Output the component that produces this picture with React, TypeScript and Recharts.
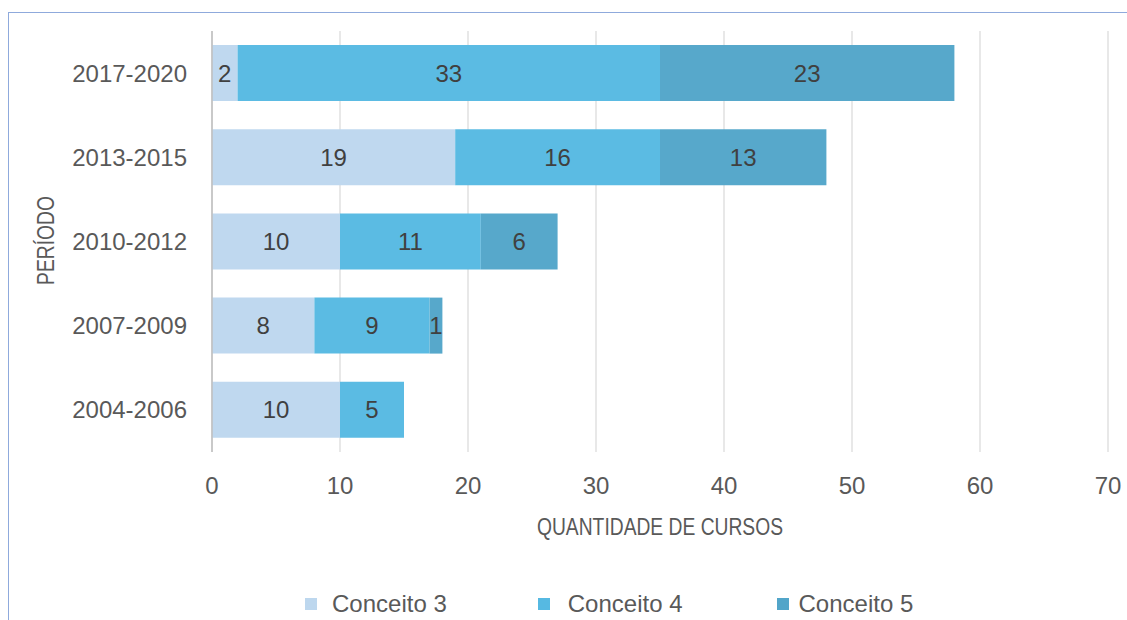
import React from 'react';
import { BarChart, Bar, XAxis, YAxis, CartesianGrid, LabelList, Legend } from 'recharts';

const periods = ['2017-2020', '2013-2015', '2010-2012', '2007-2009', '2004-2006'];
const conceito3 = [2, 19, 10, 8, 10];
const conceito4 = [33, 16, 11, 9, 5];
const conceito5: (number | null)[] = [23, 13, 6, 1, null];
const xTicks = [0, 10, 20, 30, 40, 50, 60, 70];

const seriesNames = ['Conceito 3', 'Conceito 4', 'Conceito 5'];
const seriesColors = ['#BDD7EE', '#56B9E2', '#52A5C9'];

const data = periods.map((p, i) => ({
  period: p,
  c3: conceito3[i],
  c4: conceito4[i],
  c5: conceito5[i],
}));

const sans = '"Liberation Sans", Arial, sans-serif';
const tickFont = { fontFamily: sans, fontSize: 24, fill: '#595959' };

const legendGapAfterSquare = [15, 18, 10];
const legendGapAfterText = [91, 94, 0];

const LegendContent = (props: any) => {
  const payload = props.payload || [];
  return (
    <div style={{ display: 'flex', alignItems: 'center', paddingLeft: 305, height: 32 }}>
      {payload.map((entry: any, i: number) => (
        <div key={i} style={{ display: 'flex', alignItems: 'center', marginRight: legendGapAfterText[i] }}>
          <div style={{ width: 12, height: 12, background: entry.color, marginRight: legendGapAfterSquare[i] }} />
          <span style={{ fontFamily: sans, fontSize: 24, color: '#595959', whiteSpace: 'nowrap' }}>{entry.value}</span>
        </div>
      ))}
    </div>
  );
};

const YLabel = (props: any) => {
  const vb = props.viewBox || { x: 0, y: 0, width: 0, height: 0 };
  const cx = vb.x + 46;
  const cy = vb.y + vb.height / 2 - 1;
  return (
    <g transform={`translate(${cx}, ${cy}) rotate(-90) scale(0.82, 1)`}>
      <text x={0} y={0} textAnchor="middle" dominantBaseline="central" fontFamily={sans} fontSize={23.5} fill="#595959">
        PERÍODO
      </text>
    </g>
  );
};

const XLabel = (props: any) => {
  const vb = props.viewBox || { x: 0, y: 0, width: 0, height: 0 };
  const cx = vb.x + vb.width / 2;
  const by = vb.y + vb.height - 7;
  return (
    <g transform={`translate(${cx}, ${by}) scale(0.82, 1)`}>
      <text x={0} y={0} textAnchor="middle" fontFamily={sans} fontSize={23.5} fill="#595959">
        QUANTIDADE DE CURSOS
      </text>
    </g>
  );
};

const fmt = (v: any) => (v ? v : '');

export default function App() {
  return (
    <div style={{ position: 'absolute', left: 0, top: 0, width: 1127, height: 620, background: '#fff', overflow: 'hidden' }}>
      <div
        style={{
          position: 'absolute',
          left: 8,
          top: 12,
          width: 1130,
          height: 620,
          borderTop: '1px solid #8FAADC',
          borderLeft: '1px solid #8FAADC',
        }}
      />
      <div style={{ position: 'absolute', left: 0, top: 0 }}>
        <BarChart
          width={1127}
          height={620}
          data={data}
          layout="vertical"
          margin={{ top: 31, right: 19, bottom: 78, left: 0 }}
          barSize={56}
        >
          <CartesianGrid horizontal={false} stroke="#D9D9D9" strokeWidth={1.2} />
          <XAxis
            type="number"
            domain={[0, 70]}
            ticks={xTicks}
            axisLine={false}
            tickLine={false}
            tickSize={0}
            tickMargin={25}
            height={90}
            tick={tickFont}
            interval={0}
            label={<XLabel />}
          />
          <YAxis
            type="category"
            dataKey="period"
            width={212}
            axisLine={{ stroke: '#BFBFBF', strokeWidth: 1.5 }}
            tickLine={false}
            tickSize={0}
            tickMargin={25}
            tick={tickFont}
            interval={0}
            label={<YLabel />}
          />
          <Legend
            verticalAlign="middle"
            align="center"
            layout="horizontal"
            wrapperStyle={{ top: 588, left: 0, width: 1127, height: 32 }}
            content={<LegendContent />}
          />
          <Bar dataKey="c3" name={seriesNames[0]} stackId="a" fill={seriesColors[0]} fillOpacity={0.97} isAnimationActive={false}>
            <LabelList dataKey="c3" position="center" formatter={fmt} fill="#404040" fontSize={24} fontFamily={sans} />
          </Bar>
          <Bar dataKey="c4" name={seriesNames[1]} stackId="a" fill={seriesColors[1]} fillOpacity={0.97} isAnimationActive={false}>
            <LabelList dataKey="c4" position="center" formatter={fmt} fill="#404040" fontSize={24} fontFamily={sans} />
          </Bar>
          <Bar dataKey="c5" name={seriesNames[2]} stackId="a" fill={seriesColors[2]} fillOpacity={0.97} isAnimationActive={false}>
            <LabelList dataKey="c5" position="center" formatter={fmt} fill="#404040" fontSize={24} fontFamily={sans} />
          </Bar>
        </BarChart>
      </div>
    </div>
  );
}
